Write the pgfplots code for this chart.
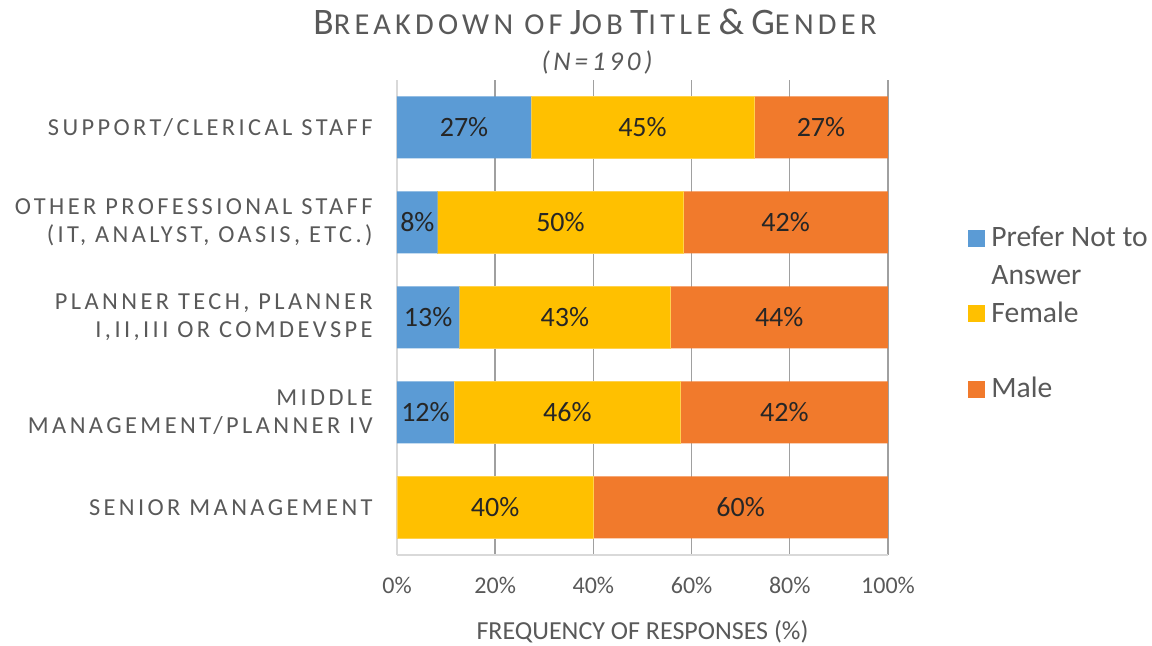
\documentclass[border=0pt]{standalone}
\usepackage{fontspec}
\setmainfont{Carlito}
\newfontfamily\spaced[LetterSpace=14]{Carlito}
\newfontfamily\titlefont[LetterSpace=14]{Carlito}
\newfontfamily\subfont[LetterSpace=14]{Carlito}
\usepackage{pgfplots}
\usepackage{pgfplotstable}
\pgfplotsset{compat=1.18}
\definecolor{cblue}{HTML}{5B9BD5}
\definecolor{cyel}{HTML}{FFC000}
\definecolor{cyeledge}{HTML}{FFD24D}
\definecolor{corg}{HTML}{F17A2C}
\definecolor{txtgray}{HTML}{595959}
\definecolor{gridgray}{HTML}{A0A0A0}
\definecolor{axgray}{HTML}{D9D9D9}

\pgfplotstableread{
pos blue female male
0 0 40 60
1 11.6 46.2 42.2
2 12.7 43.0 44.3
3 8.3 50.0 41.7
4 27.3 45.4 27.3
}\datatable

\pgfplotsset{seglabel/.style={
  visualization depends on={\thisrow{#1} \as \segv},
  point meta=\thisrow{#1},
  nodes near coords={\ifdim\segv pt<0.5pt\relax\else\pgfmathprintnumber[fixed,precision=0]{\pgfplotspointmeta}\%\fi},
  every node near coord/.append style={anchor=center, font=\fontsize{14}{16}\selectfont, text=black!85},
}}

\newcommand\tsc[2]{{\fontsize{18.7}{20}\selectfont #1}{\fontsize{15.2}{17}\selectfont #2}}

\begin{document}
\begin{tikzpicture}
\useasboundingbox (-198.5pt,-45.5pt) rectangle (377.5pt,277.5pt);
\begin{axis}[
  at={(0,0)}, anchor=south west,
  scale only axis, width=245.5pt, height=237.5pt,
  xbar stacked, bar width=31pt,
  xmin=0, xmax=100, ymin=-0.5, ymax=4.5,
  xtick={0,20,...,100},
  xticklabel={\pgfmathprintnumber{\tick}\%},
  /pgf/number format/assume math mode=true,
  ytick={0,1,2,3,4},
  yticklabels={SENIOR MANAGEMENT, {MIDDLE\\MANAGEMENT/PLANNER IV}, {PLANNER TECH, PLANNER\\I,II,III OR COMDEVSPE}, {OTHER PROFESSIONAL STAFF\\(IT, ANALYST, OASIS, ETC.)}, SUPPORT/CLERICAL STAFF},
  major tick length=0pt,
  xmajorgrids, grid style={gridgray, line width=0.7pt},
  axis line style={axgray, line width=0.8pt},
  axis x line*=bottom, axis y line*=left,
  xticklabel style={anchor=base, yshift=-19.5pt, font=\fontsize{12}{14}\selectfont, text=txtgray},
  yticklabel style={anchor=east, inner sep=0pt, xshift=-12pt, align=right, font=\spaced\fontsize{12.2}{14}\selectfont, text=txtgray},
  xlabel={FREQUENCY OF RESPONSES (\%)},
  xlabel style={at={(axis description cs:0.5,0)}, anchor=base, yshift=-42.5pt, font=\fontsize{13}{15}\selectfont, text=txtgray},
  legend style={at={(axis description cs:1.163,0.7088)}, anchor=north west, draw=none, fill=none, inner sep=0pt,
    font=\fontsize{14.8}{17}\selectfont, text=txtgray, row sep=1.5pt,
    cells={anchor=base west, inner sep=0pt},
    /tikz/every odd column/.append style={column sep=1pt}},
  legend image code/.code={\fill[#1,draw=none] (0pt,0pt) rectangle (8.5pt,8.5pt);},
]
\addplot[draw=none, fill=cblue, seglabel=blue] table[x=blue, y=pos]{\datatable};
\addlegendimage{empty legend}
\addplot[draw=cyeledge, line width=0.4pt, fill=cyel, seglabel=female] table[x=female, y=pos]{\datatable};
\addlegendimage{empty legend}
\addplot[draw=none, fill=corg, seglabel=male] table[x=male, y=pos]{\datatable};
\legend{\strut Prefer Not to, \strut Answer, \strut Female, \strut, \strut Male}
\end{axis}
\node[anchor=base, text=txtgray, font=\titlefont] at (99pt,260pt) {\tsc{B}{REAKDOWN OF} \tsc{J}{OB} \tsc{T}{ITLE} \tsc{\&}{} \tsc{G}{ENDER}};
\node[anchor=base, text=txtgray, font=\subfont\itshape\fontsize{13.5}{15}\selectfont] at (100pt,242pt) {(N=190)};
\end{tikzpicture}
\end{document}
